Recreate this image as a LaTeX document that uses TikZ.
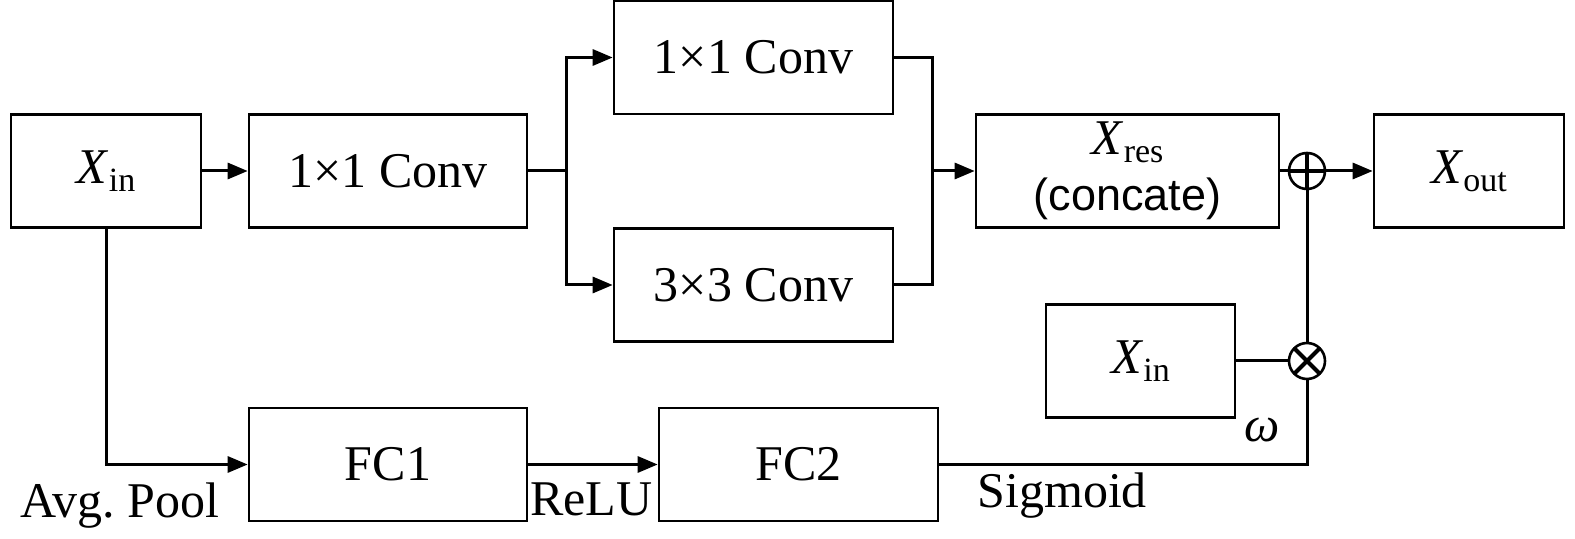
\documentclass[tikz,border=0pt]{standalone}
\usepackage{fontspec}
\setmainfont{Liberation Serif}
\newfontfamily\sansf{Liberation Sans}
\usetikzlibrary{arrows.meta}
\newcommand\Xsub[1]{\textit{X}\raisebox{-0.35ex}{\fontsize{17}{17}\selectfont #1}}
\begin{document}
\begin{tikzpicture}[x=0.5pt,y=-0.5pt,
  blk/.style={draw, line width=1.3pt, minimum height=56.5pt, inner sep=0pt,
    font=\fontsize{25}{27}\selectfont},
  lbl/.style={font=\fontsize{25}{27}\selectfont, inner sep=0pt, anchor=base west},
  conn/.style={line width=1.5pt},
  arr/.style={conn, -{Triangle[length=10pt,width=8pt]}},
  opc/.style={circle, draw, line width=1.3pt, minimum size=18pt, inner sep=0pt}]
\useasboundingbox (0,0) rectangle (1575,539);
\node[blk, minimum width=95pt] (xin) at (106,171) {\Xsub{in}};
\node[blk, minimum width=139pt] (c1) at (388,171) {1×1 Conv};
\node[blk, minimum width=139.5pt] (c1t) at (753.5,57.5) {1×1 Conv};
\node[blk, minimum width=139.5pt] (c3) at (753.5,285) {3×3 Conv};
\node[blk, minimum width=151.5pt, align=center] (xres) at (1127.5,171) {\Xsub{res}\\[1pt]{\sansf\fontsize{22.5}{24}\selectfont (concate)}};
\node[blk, minimum width=95pt] (xout) at (1469,171) {\Xsub{out}};
\node[blk, minimum width=94.5pt] (xin2) at (1140.5,361) {\Xsub{in}};
\node[blk, minimum width=139pt] (fc1) at (388,464.5) {FC1};
\node[blk, minimum width=139.5pt] (fc2) at (798.5,464.5) {FC2};
\node[opc, path picture={\draw[line width=2pt] (path picture bounding box.north) -- (path picture bounding box.south) (path picture bounding box.west) -- (path picture bounding box.east);}] (plus) at (1307,171) {};
\node[opc, path picture={\draw[line width=2pt] (path picture bounding box.north west) -- (path picture bounding box.south east) (path picture bounding box.north east) -- (path picture bounding box.south west);}] (times) at (1307,361) {};
\coordinate (br) at (566,171);
\coordinate (mg) at (932,171);
% connectors
\draw[arr] (xin) -- (c1);
\draw[arr] (xin.south) |- (fc1.west);
\draw[conn] (c1.east) -- (br);
\draw[arr] (br) |- (c1t.west);
\draw[arr] (br) |- (c3.west);
\draw[conn] (c1t.east) -| (mg);
\draw[conn] (c3.east) -| (mg);
\draw[arr] (mg) -- (xres.west);
\draw[conn] (xres.east) -- (plus.west);
\draw[arr] (plus.east) -- (xout.west);
\draw[conn] (xin2.east) -- (times.west);
\draw[conn] (times.north) -- (plus.south);
\draw[arr] (fc1.east) -- (fc2.west);
\draw[conn] (fc2.east) -| (times.south);
% labels
\node[lbl] (avg) at (20,518) {Avg.\ Pool};
\node[lbl] (relu) at (530,516) {ReLU};
\node[lbl] (sig) at (977,508) {Sigmoid};
\node[font=\fontsize{25}{27}\selectfont, inner sep=0pt] (om) at (1262,430) {\textit{ω}};
\end{tikzpicture}
\end{document}
